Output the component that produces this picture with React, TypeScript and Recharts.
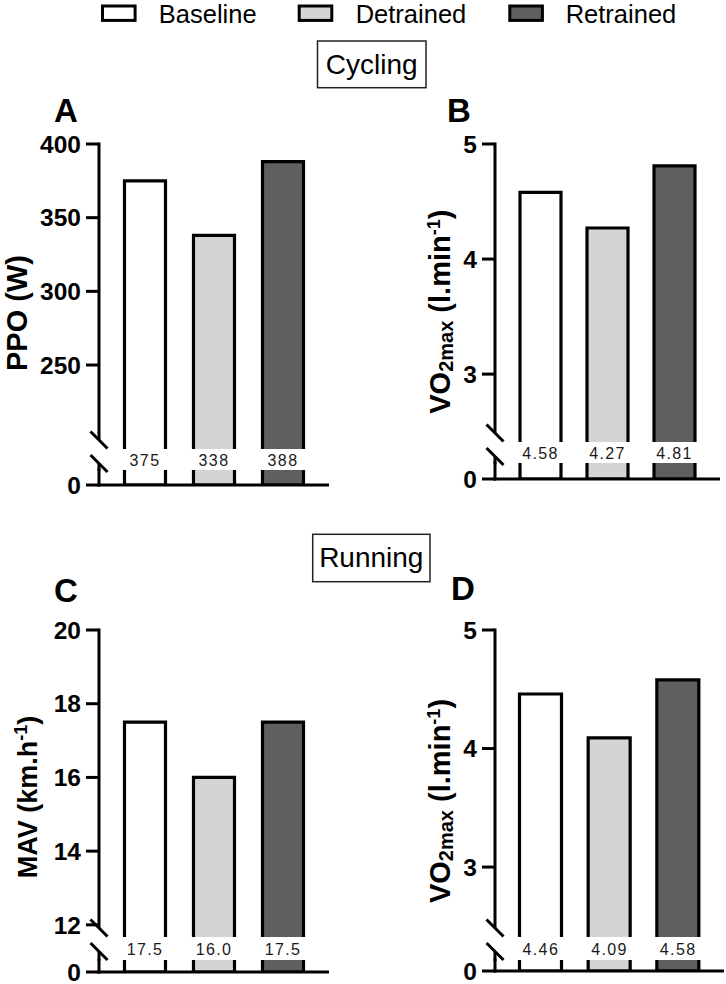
import React from "react"
import { BarChart, Bar, XAxis, YAxis, Cell } from "recharts"

const FONT = "'Liberation Sans', Arial, Helvetica, sans-serif"

const groups = ["Baseline", "Detrained", "Retrained"]
const groupFills = ["#ffffff", "#d4d4d4", "#5f5f5f"]

// cycling
const ppoValues = [375, 338, 388]
const ppoTicks = [250, 300, 350, 400]
const cyclingVo2Values = [4.58, 4.27, 4.81]
const cyclingVo2Ticks = [3, 4, 5]

// running
const mavValues = [17.5, 16.0, 17.5]
const mavTicks = [12, 14, 16, 18, 20]
const runningVo2Values = [4.46, 4.09, 4.58]
const runningVo2Ticks = [3, 4, 5]

const sectionTitles = ["Cycling", "Running"]
const panelLetters = ["A", "B", "C", "D"]

type Layout = {
  left: number
  axisX: number
  plotRight: number
  topY: number
  upperBottom: number
  lowerTop: number
  zeroY: number
  domain: [number, number]
  lowerMax: number
  pad: number
  barSize: number
}

const layoutA: Layout = { left: 0, axisX: 99, plotRight: 329, topY: 144, upperBottom: 449, lowerTop: 470, zeroY: 485, domain: [193, 400], lowerMax: 10, pad: 11.5, barSize: 41 }
const layoutB: Layout = { left: 400, axisX: 495, plotRight: 720, topY: 144, upperBottom: 442, lowerTop: 463, zeroY: 479, domain: [2.41, 5], lowerMax: 0.1, pad: 12, barSize: 41 }
const layoutC: Layout = { left: 0, axisX: 99, plotRight: 329, topY: 630, upperBottom: 937, lowerTop: 960, zeroY: 972, domain: [11.67, 20], lowerMax: 0.5, pad: 11.5, barSize: 41 }
const layoutD: Layout = { left: 400, axisX: 495, plotRight: 724, topY: 630, upperBottom: 937, lowerTop: 960, zeroY: 971, domain: [2.41, 5], lowerMax: 0.1, pad: 11.5, barSize: 42 }

const axisLine = { stroke: "#000", strokeWidth: 3, strokeLinecap: "square" as const }
const tickLine = { stroke: "#000", strokeWidth: 3 }
const tickText = { fill: "#000", fontSize: 24.5, fontWeight: 700, fontFamily: FONT }

function OpenBottomBar(props: any) {
  const { x, y, width, height, fill } = props
  if (height == null || height <= 0) return null
  return (
    <g>
      <rect x={x} y={y} width={width} height={height} fill={fill} />
      <path
        d={`M${x},${y + height}V${y}H${x + width}V${y + height}`}
        fill="none"
        stroke="#000"
        strokeWidth={3.2}
      />
    </g>
  )
}

function BrokenBarPanel({ values, ticks, decimals, lay }: { values: number[]; ticks: number[]; decimals: number; lay: Layout }) {
  const data = groups.map((name, i) => ({ name, value: values[i] }))
  const upperMargin = 14
  const upperH = upperMargin + (lay.upperBottom - lay.topY) + 24
  const lowerMargin = 12
  const lowerH = lowerMargin + (lay.zeroY - lay.lowerTop) + 16
  const width = lay.plotRight - lay.left
  const yWidth = lay.axisX - lay.left
  const labelOffset = (lay.lowerTop - lay.upperBottom) / 2 + 1

  const valueTick = (props: any) => {
    const { x, y, index } = props
    return (
      <text
        x={x}
        y={y + labelOffset}
        textAnchor="middle"
        dominantBaseline="central"
        fontFamily={FONT}
        fontSize={16}
        letterSpacing={1.4}
        fill="#1a1a1a"
      >
        {data[index].value.toFixed(decimals)}
      </text>
    )
  }

  return (
    <>
      <div style={{ position: "absolute", left: lay.left, top: lay.topY - upperMargin }}>
        <BarChart width={width} height={upperH} data={data} margin={{ top: upperMargin, right: 0, bottom: 0, left: 0 }}>
          <XAxis
            dataKey="name"
            axisLine={false}
            tickLine={false}
            tickSize={0}
            tickMargin={0}
            height={24}
            interval={0}
            padding={{ left: lay.pad, right: lay.pad }}
            tick={valueTick}
          />
          <YAxis
            type="number"
            domain={lay.domain}
            allowDataOverflow
            ticks={ticks}
            interval={0}
            width={yWidth}
            axisLine={axisLine}
            tickLine={tickLine}
            tickSize={13}
            tickMargin={5}
            tick={tickText}
          />
          <Bar dataKey="value" barSize={lay.barSize} isAnimationActive={false} shape={OpenBottomBar}>
            {data.map((d, i) => (
              <Cell key={d.name} fill={groupFills[i]} />
            ))}
          </Bar>
        </BarChart>
      </div>
      <div style={{ position: "absolute", left: lay.left, top: lay.lowerTop - lowerMargin }}>
        <BarChart width={width} height={lowerH} data={data} margin={{ top: lowerMargin, right: 0, bottom: 0, left: 0 }}>
          <XAxis
            dataKey="name"
            axisLine={axisLine}
            tickLine={false}
            tick={false}
            height={16}
            padding={{ left: lay.pad, right: lay.pad }}
          />
          <YAxis
            type="number"
            domain={[0, lay.lowerMax]}
            allowDataOverflow
            ticks={[0]}
            interval={0}
            width={yWidth}
            axisLine={axisLine}
            tickLine={tickLine}
            tickSize={13}
            tickMargin={5}
            tick={tickText}
          />
          <Bar dataKey="value" barSize={lay.barSize} stroke="#000" strokeWidth={3.2} isAnimationActive={false}>
            {data.map((d, i) => (
              <Cell key={d.name} fill={groupFills[i]} />
            ))}
          </Bar>
        </BarChart>
      </div>
    </>
  )
}

function AxisBreak({ lay }: { lay: Layout }) {
  const c1 = lay.upperBottom - 9
  const c2 = c1 + 23.5
  const x = lay.axisX
  return (
    <g>
      <rect x={x - 4} y={c1} width={8} height={c2 - c1} fill="#fff" />
      <line x1={x} y1={c2} x2={x} y2={lay.lowerTop + 1} stroke="#000" strokeWidth={3} />
      <line x1={x - 8.5} y1={c1 - 8.5} x2={x + 8.5} y2={c1 + 8.5} stroke="#000" strokeWidth={3} />
      <line x1={x - 8.5} y1={c2 - 8.5} x2={x + 8.5} y2={c2 + 8.5} stroke="#000" strokeWidth={3} />
    </g>
  )
}

function Vo2Label({ x, cy }: { x: number; cy: number }) {
  return (
    <text transform={`translate(${x},${cy}) rotate(-90)`} textAnchor="middle" fontFamily={FONT} fontWeight={700} fontSize={29} fill="#000">
      VO<tspan fontSize={20} dy={3}>2max</tspan>
      <tspan dy={-3}> (l.min</tspan>
      <tspan fontSize={18} dy={-10}>-1</tspan>
      <tspan dy={10}>)</tspan>
    </text>
  )
}

const legendSwatchX = [102.5, 299.2, 509.8]
const legendTextX = [158.8, 355.7, 565.7]
const letterPos = [
  [54, 121.7],
  [447, 121.7],
  [54, 601.7],
  [451, 600],
]
const boxPos = [
  { x: 317.5, y: 41, w: 108.5, h: 46.7, tx: 371.7, ty: 74.3 },
  { x: 312.7, y: 534.3, w: 117.3, h: 47.4, tx: 371.3, ty: 566.7 },
]

export default function App() {
  return (
    <div style={{ position: "absolute", left: 0, top: 0, width: 726, height: 984, background: "#fff", overflow: "hidden" }}>
      <BrokenBarPanel values={ppoValues} ticks={ppoTicks} decimals={0} lay={layoutA} />
      <BrokenBarPanel values={cyclingVo2Values} ticks={cyclingVo2Ticks} decimals={2} lay={layoutB} />
      <BrokenBarPanel values={mavValues} ticks={mavTicks} decimals={1} lay={layoutC} />
      <BrokenBarPanel values={runningVo2Values} ticks={runningVo2Ticks} decimals={2} lay={layoutD} />

      <svg width={726} height={984} style={{ position: "absolute", left: 0, top: 0, pointerEvents: "none" }}>
        {/* legend */}
        {groups.map((g, i) => (
          <g key={g}>
            <rect x={legendSwatchX[i]} y={6} width={32.6} height={14.4} fill={groupFills[i]} stroke="#000" strokeWidth={3} />
            <text x={legendTextX[i]} y={22.5} fontFamily={FONT} fontSize={25.5} fill="#000">
              {g}
            </text>
          </g>
        ))}

        {/* section titles */}
        {sectionTitles.map((t, i) => (
          <g key={t}>
            <rect x={boxPos[i].x} y={boxPos[i].y} width={boxPos[i].w} height={boxPos[i].h} fill="none" stroke="#222" strokeWidth={1.5} />
            <text x={boxPos[i].tx} y={boxPos[i].ty} textAnchor="middle" fontFamily={FONT} fontSize={28} fill="#000">
              {t}
            </text>
          </g>
        ))}

        {/* panel letters */}
        {panelLetters.map((l, i) => (
          <text key={l} x={letterPos[i][0]} y={letterPos[i][1]} fontFamily={FONT} fontWeight={700} fontSize={33} fill="#000">
            {l}
          </text>
        ))}

        {/* y axis titles */}
        <text transform="translate(27,313) rotate(-90)" textAnchor="middle" fontFamily={FONT} fontWeight={700} fontSize={29} fill="#000">
          PPO (W)
        </text>
        <Vo2Label x={450} cy={311.7} />
        <text transform="translate(37,797) rotate(-90)" textAnchor="middle" fontFamily={FONT} fontWeight={700} fontSize={27} fill="#000">
          MAV (km.h<tspan fontSize={18} dy={-10}>-1</tspan>
          <tspan dy={10}>)</tspan>
        </text>
        <Vo2Label x={450} cy={801} />

        <AxisBreak lay={layoutA} />
        <AxisBreak lay={layoutB} />
        <AxisBreak lay={layoutC} />
        <AxisBreak lay={layoutD} />
      </svg>
    </div>
  )
}
